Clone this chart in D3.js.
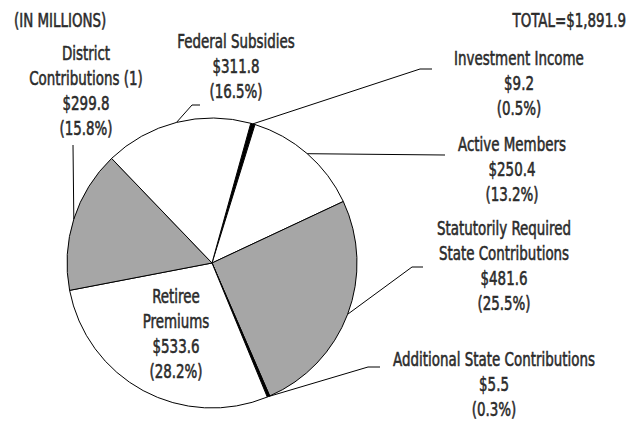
<!DOCTYPE html>
<html lang="en">
  <head>
    <meta charset="UTF-8" />
    <title>Revenue sources</title>
    <script src="https://cdn.jsdelivr.net/npm/d3@7"></script>
    <style>
      body { margin: 0; background: #fff; }
      text { font-family: "DejaVu Sans Condensed", sans-serif; fill: #2b2b2b; stroke: #2b2b2b; stroke-width: 0.55; }
    </style>
  </head>
  <body>
    <svg width="640" height="422"></svg>
  </body>
  <script>
    // data, clockwise from the top
    var names = [
      ["Investment Income"],
      ["Active Members"],
      ["Statutorily Required", "State Contributions"],
      ["Additional State Contributions"],
      ["Retiree", "Premiums"],
      ["District", "Contributions (1)"],
      ["Federal Subsidies"]
    ];
    var amounts = [9.2, 250.4, 481.6, 5.5, 533.6, 299.8, 311.8];
    var shares = ["0.5%", "13.2%", "25.5%", "0.3%", "28.2%", "15.8%", "16.5%"];
    var fills = ["#000", "#fff", "#a6a6a6", "#000", "#fff", "#a6a6a6", "#fff"];

    // label layout: text centre x, first baseline, leader elbow and end
    var labelX = [519, 512, 504, 494, 176, 86, 236];
    var labelY = [65, 151, 235, 366, 303, 60, 48];
    var elbow = [[420, 69], [445, 155], [412, 267], [368, 367], null, [73, 145], [192, 105]];
    var lineEnd = [[432, 69], [445, 155], [423, 267], [380, 367], null, [73, 145], [200, 105]];

    var svg = d3.select("svg");
    var cx = 212, cy = 263, r = 145;
    var start = 15.5 * Math.PI / 180;

    var pie = d3.pie().sort(null).startAngle(start).endAngle(start + 2 * Math.PI);
    var arcs = pie(amounts);
    var arc = d3.arc().innerRadius(0).outerRadius(r);

    var g = svg.append("g").attr("transform", "translate(" + cx + "," + cy + ")");
    g.selectAll("path")
      .data(arcs)
      .enter()
      .append("path")
      .attr("d", arc)
      .attr("fill", (d, i) => fills[i])
      .attr("stroke", "#000")
      .attr("stroke-width", 1);

    // leader lines from the middle of each slice's rim
    arcs.forEach(function (d, i) {
      if (!elbow[i]) return;
      var a = (d.startAngle + d.endAngle) / 2;
      var p0 = [cx + r * Math.sin(a), cy - r * Math.cos(a)];
      svg.append("path")
        .attr("d", d3.line()([p0, elbow[i], lineEnd[i]]))
        .attr("fill", "none")
        .attr("stroke", "#000")
        .attr("stroke-width", 1);
    });

    var fs = 19.5, lh = 25;
    // squeeze the text horizontally to look like a condensed face
    var probe = svg.append("text").attr("font-size", fs).text("Additional State Contributions");
    var sx = 202 / probe.node().getComputedTextLength();
    probe.remove();

    function label(x, y, lines, anchor) {
      var t = svg.append("g")
        .attr("transform", "translate(" + x + "," + y + ") scale(" + sx + ",1)")
        .append("text")
        .attr("text-anchor", anchor)
        .attr("font-size", fs);
      lines.forEach(function (s, k) {
        t.append("tspan").attr("x", 0).attr("y", k * lh).text(s);
      });
    }

    names.forEach(function (lines, i) {
      label(labelX[i], labelY[i],
        lines.concat(["$" + amounts[i].toFixed(1), "(" + shares[i] + ")"]), "middle");
    });

    label(14, 27, ["(IN MILLIONS)"], "start");
    label(626, 27, ["TOTAL=$" + d3.format(",.1f")(d3.sum(amounts))], "end");
  </script>
</html>
